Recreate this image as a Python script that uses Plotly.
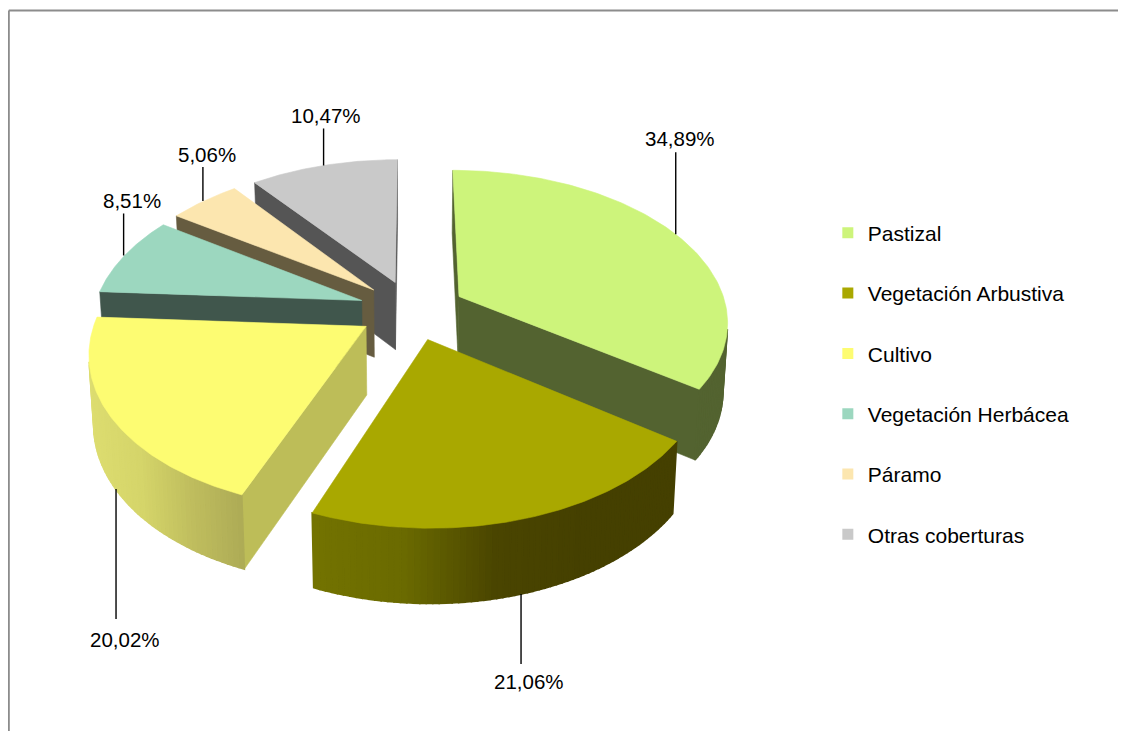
import math
import plotly.graph_objects as go

categories = ["Pastizal", "Vegetación Arbustiva", "Cultivo", "Vegetación Herbácea", "Páramo", "Otras coberturas"]
values = [34.89, 21.06, 20.02, 8.51, 5.06, 10.47]

top_colors = ["#CDF47B", "#A9A800", "#FDFC72", "#9CD7BF", "#FCE6AF", "#C9C9C9"]
face_colors = ["#536330", "#4A4500", "#BDBD58", "#40564C", "#665C40", "#555555"]
wall_stops = [
    ["#536330", "#536330"],
    ["#737300", "#6A6A00", "#4A4500", "#454000", "#454000"],
    ["#DDDD70", "#D5D56A", "#BFBD5E", "#ADAB55"],
    ["#40564C", "#40564C"],
    ["#665C40", "#665C40"],
    ["#555555", "#555555"],
]
leader_lengths = [82, 70, 130, 42, 34, 37]
leader_dx = [0, -2, 5, -1, -1, 0]
label_dx = [4, 8, 9, 8, 4, 2]
label_dy = [14, 17, 21, 13, 12, 13]

CX, CY, RX, RY, PERSP, EXPL, HEIGHT = 412, 310, 268, 149.5, 0.154, 0.2, 68
PAGE_MARGIN = 8


def project(u, v, drop=False):
    s = 1 / (1 + PERSP * v)
    x = CX + RX * u * s
    y = CY - RY * v * s
    if drop:
        x = CX + (x - CX) * 0.985
        y = y + HEIGHT * s ** 0.5
    return x, y


def hex_rgb(h):
    return [int(h[i:i + 2], 16) for i in (1, 3, 5)]


def grad(stops, t):
    t = max(0, min(1, t)) * (len(stops) - 1)
    i = min(int(t), len(stops) - 2)
    a, b = hex_rgb(stops[i]), hex_rgb(stops[i + 1])
    f = t - i
    return "rgb(%d,%d,%d)" % tuple(round(a[k] + (b[k] - a[k]) * f) for k in range(3))


def area(pts):
    return sum(pts[i][0] * pts[(i + 1) % len(pts)][1] - pts[(i + 1) % len(pts)][0] * pts[i][1] for i in range(len(pts)))


fig = go.Figure()


def poly(pts, color, lw=0.6):
    fig.add_trace(go.Scatter(
        x=[p[0] for p in pts] + [pts[0][0]], y=[p[1] for p in pts] + [pts[0][1]],
        mode="lines", fill="toself", fillcolor=color, line=dict(color=color, width=lw),
        hoverinfo="skip", showlegend=False))


total = sum(values)
slices = []
acc = 0
for i, val in enumerate(values):
    a0 = acc / total * 2 * math.pi
    acc += val
    a1 = acc / total * 2 * math.pi
    slices.append((i, a0, a1, (a0 + a1) / 2))


def rim(sl, th, r=1.0):
    m = sl[3]
    return EXPL * math.sin(m) + r * math.sin(th), EXPL * math.cos(m) + r * math.cos(th)


def quad(a, b):
    return [project(*a), project(*b), project(*b, drop=True), project(*a, drop=True)]


for sl in sorted(slices, key=lambda s: -math.cos(s[3])):
    i, a0, a1, m = sl
    apex = rim(sl, 0, 0)
    n = max(4, int((a1 - a0) * 50))
    ths = [a0 + (a1 - a0) * k / n for k in range(n + 1)]
    for a, b in ((apex, rim(sl, a0)), (rim(sl, a1), apex)):
        q = quad(a, b)
        if area(q) < 0:
            poly(q, face_colors[i])
    strips = []
    for k in range(n):
        q = quad(rim(sl, ths[k]), rim(sl, ths[k + 1]))
        if area(q) < 0:
            strips.append(q)
    if strips:
        xs = [p[0] for q in strips for p in q]
        lo, hi = min(xs), max(xs)
        for q in strips:
            xm = sum(p[0] for p in q) / 4
            poly(q, grad(wall_stops[i], (xm - lo) / max(hi - lo, 1)), lw=1.6)
    fine = [a0 + (a1 - a0) * k / 120 for k in range(121)]
    poly([project(*apex)] + [project(*rim(sl, t)) for t in fine], top_colors[i])

# leader lines and percentage labels
for sl in slices:
    i, a0, a1, m = sl
    u, v = rim(sl, m)
    front = math.cos(m) < 0
    x, y = project(u, v, drop=False)
    if front:
        _, y = project(u, v, drop=True)
    x += leader_dx[i]
    sign = 1 if front else -1
    y2 = y + sign * leader_lengths[i]
    fig.add_trace(go.Scatter(x=[x, x], y=[y, y2], mode="lines", line=dict(color="#000000", width=1.4),
                             hoverinfo="skip", showlegend=False))
    fig.add_annotation(x=x + label_dx[i], y=y2 + sign * label_dy[i], text=("%.2f%%" % values[i]).replace(".", ","),
                       showarrow=False, font=dict(family="Liberation Sans, Arial", size=20.5, color="#000000"),
                       xanchor="center", yanchor="middle")

# legend entries
for c, col in zip(categories, top_colors):
    fig.add_trace(go.Scatter(x=[None], y=[None], mode="markers", name=c, legendgroup=c,
                             marker=dict(symbol="square", size=11, color=col)))

fig.update_layout(
    width=1126 - PAGE_MARGIN, height=731 - PAGE_MARGIN, margin=dict(l=0, r=0, t=0, b=0),
    paper_bgcolor="#FFFFFF", plot_bgcolor="#FFFFFF",
    xaxis=dict(range=[PAGE_MARGIN, 1126], visible=False, fixedrange=True),
    yaxis=dict(range=[731, PAGE_MARGIN], visible=False, fixedrange=True),
    legend=dict(x=0.7333, y=0.4804, xanchor="left", yanchor="middle", tracegroupgap=30, itemwidth=30,
                font=dict(family="Liberation Sans, Arial", size=21, color="#000000"), bgcolor="rgba(0,0,0,0)"),
    shapes=[
        dict(type="line", xref="x", yref="y", x0=8.8, y0=10.5, x1=1126, y1=10.5, line=dict(color="#8C8C8C", width=2)),
        dict(type="line", xref="x", yref="y", x0=8.8, y0=10.5, x1=8.8, y1=731, line=dict(color="#8C8C8C", width=2)),
    ],
)
fig.write_html("out.html")
